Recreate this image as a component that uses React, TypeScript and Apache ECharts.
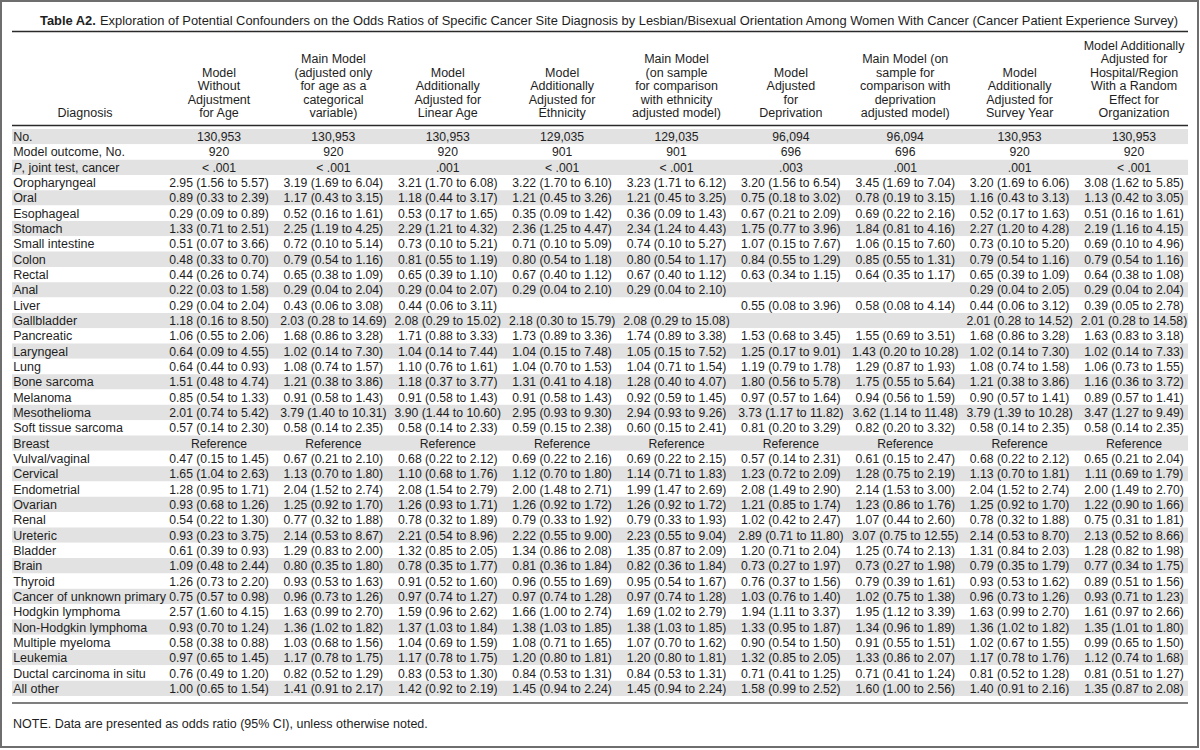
import React, { useEffect, useRef } from 'react';
import * as echarts from 'echarts';

const FONT = '"Liberation Sans", Arial, Helvetica, sans-serif';
const FS = 12.5;
const FS_DATA = 12.2;

const headers: string[][] = [
  ['Diagnosis'],
  ['Model', 'Without', 'Adjustment', 'for Age'],
  ['Main Model', '(adjusted only', 'for age as a', 'categorical', 'variable)'],
  ['Model', 'Additionally', 'Adjusted for', 'Linear Age'],
  ['Model', 'Additionally', 'Adjusted for', 'Ethnicity'],
  ['Main Model', '(on sample', 'for comparison', 'with ethnicity', 'adjusted model)'],
  ['Model', 'Adjusted', 'for', 'Deprivation'],
  ['Main Model (on', 'sample for', 'comparison with', 'deprivation', 'adjusted model)'],
  ['Model', 'Additionally', 'Adjusted for', 'Survey Year'],
  ['Model Additionally', 'Adjusted for', 'Hospital/Region', 'With a Random', 'Effect for', 'Organization'],
];

const summaryLabels = ['No.', 'Model outcome, No.', '{i|P}, joint test, cancer'];
const sampleSize = ['130,953', '130,953', '130,953', '129,035', '129,035', '96,094', '96,094', '130,953', '130,953'];
const outcomeCount = ['920', '920', '920', '901', '901', '696', '696', '920', '920'];
const jointP = ['< .001', '< .001', '.001', '< .001', '< .001', '.003', '.001', '.001', '< .001'];

const diagnoses = [
  'Oropharyngeal', 'Oral', 'Esophageal', 'Stomach', 'Small intestine', 'Colon', 'Rectal', 'Anal', 'Liver',
  'Gallbladder', 'Pancreatic', 'Laryngeal', 'Lung', 'Bone sarcoma', 'Melanoma', 'Mesothelioma',
  'Soft tissue sarcoma', 'Breast', 'Vulval/vaginal', 'Cervical', 'Endometrial', 'Ovarian', 'Renal',
  'Ureteric', 'Bladder', 'Brain', 'Thyroid', 'Cancer of unknown primary', 'Hodgkin lymphoma',
  'Non-Hodgkin lymphoma', 'Multiple myeloma', 'Leukemia', 'Ductal carcinoma in situ', 'All other',
];

const noAgeAdj = [
  '2.95 (1.56 to 5.57)', '0.89 (0.33 to 2.39)', '0.29 (0.09 to 0.89)', '1.33 (0.71 to 2.51)', '0.51 (0.07 to 3.66)',
  '0.48 (0.33 to 0.70)', '0.44 (0.26 to 0.74)', '0.22 (0.03 to 1.58)', '0.29 (0.04 to 2.04)', '1.18 (0.16 to 8.50)',
  '1.06 (0.55 to 2.06)', '0.64 (0.09 to 4.55)', '0.64 (0.44 to 0.93)', '1.51 (0.48 to 4.74)', '0.85 (0.54 to 1.33)',
  '2.01 (0.74 to 5.42)', '0.57 (0.14 to 2.30)', 'Reference', '0.47 (0.15 to 1.45)', '1.65 (1.04 to 2.63)',
  '1.28 (0.95 to 1.71)', '0.93 (0.68 to 1.26)', '0.54 (0.22 to 1.30)', '0.93 (0.23 to 3.75)', '0.61 (0.39 to 0.93)',
  '1.09 (0.48 to 2.44)', '1.26 (0.73 to 2.20)', '0.75 (0.57 to 0.98)', '2.57 (1.60 to 4.15)', '0.93 (0.70 to 1.24)',
  '0.58 (0.38 to 0.88)', '0.97 (0.65 to 1.45)', '0.76 (0.49 to 1.20)', '1.00 (0.65 to 1.54)',
];
const mainModel = [
  '3.19 (1.69 to 6.04)', '1.17 (0.43 to 3.15)', '0.52 (0.16 to 1.61)', '2.25 (1.19 to 4.25)', '0.72 (0.10 to 5.14)',
  '0.79 (0.54 to 1.16)', '0.65 (0.38 to 1.09)', '0.29 (0.04 to 2.04)', '0.43 (0.06 to 3.08)', '2.03 (0.28 to 14.69)',
  '1.68 (0.86 to 3.28)', '1.02 (0.14 to 7.30)', '1.08 (0.74 to 1.57)', '1.21 (0.38 to 3.86)', '0.91 (0.58 to 1.43)',
  '3.79 (1.40 to 10.31)', '0.58 (0.14 to 2.35)', 'Reference', '0.67 (0.21 to 2.10)', '1.13 (0.70 to 1.80)',
  '2.04 (1.52 to 2.74)', '1.25 (0.92 to 1.70)', '0.77 (0.32 to 1.88)', '2.14 (0.53 to 8.67)', '1.29 (0.83 to 2.00)',
  '0.80 (0.35 to 1.80)', '0.93 (0.53 to 1.63)', '0.96 (0.73 to 1.26)', '1.63 (0.99 to 2.70)', '1.36 (1.02 to 1.82)',
  '1.03 (0.68 to 1.56)', '1.17 (0.78 to 1.75)', '0.82 (0.52 to 1.29)', '1.41 (0.91 to 2.17)',
];
const linearAge = [
  '3.21 (1.70 to 6.08)', '1.18 (0.44 to 3.17)', '0.53 (0.17 to 1.65)', '2.29 (1.21 to 4.32)', '0.73 (0.10 to 5.21)',
  '0.81 (0.55 to 1.19)', '0.65 (0.39 to 1.10)', '0.29 (0.04 to 2.07)', '0.44 (0.06 to 3.11)', '2.08 (0.29 to 15.02)',
  '1.71 (0.88 to 3.33)', '1.04 (0.14 to 7.44)', '1.10 (0.76 to 1.61)', '1.18 (0.37 to 3.77)', '0.91 (0.58 to 1.43)',
  '3.90 (1.44 to 10.60)', '0.58 (0.14 to 2.33)', 'Reference', '0.68 (0.22 to 2.12)', '1.10 (0.68 to 1.76)',
  '2.08 (1.54 to 2.79)', '1.26 (0.93 to 1.71)', '0.78 (0.32 to 1.89)', '2.21 (0.54 to 8.96)', '1.32 (0.85 to 2.05)',
  '0.78 (0.35 to 1.77)', '0.91 (0.52 to 1.60)', '0.97 (0.74 to 1.27)', '1.59 (0.96 to 2.62)', '1.37 (1.03 to 1.84)',
  '1.04 (0.69 to 1.59)', '1.17 (0.78 to 1.75)', '0.83 (0.53 to 1.30)', '1.42 (0.92 to 2.19)',
];
const ethnicity = [
  '3.22 (1.70 to 6.10)', '1.21 (0.45 to 3.26)', '0.35 (0.09 to 1.42)', '2.36 (1.25 to 4.47)', '0.71 (0.10 to 5.09)',
  '0.80 (0.54 to 1.18)', '0.67 (0.40 to 1.12)', '0.29 (0.04 to 2.10)', '', '2.18 (0.30 to 15.79)',
  '1.73 (0.89 to 3.36)', '1.04 (0.15 to 7.48)', '1.04 (0.70 to 1.53)', '1.31 (0.41 to 4.18)', '0.91 (0.58 to 1.43)',
  '2.95 (0.93 to 9.30)', '0.59 (0.15 to 2.38)', 'Reference', '0.69 (0.22 to 2.16)', '1.12 (0.70 to 1.80)',
  '2.00 (1.48 to 2.71)', '1.26 (0.92 to 1.72)', '0.79 (0.33 to 1.92)', '2.22 (0.55 to 9.00)', '1.34 (0.86 to 2.08)',
  '0.81 (0.36 to 1.84)', '0.96 (0.55 to 1.69)', '0.97 (0.74 to 1.28)', '1.66 (1.00 to 2.74)', '1.38 (1.03 to 1.85)',
  '1.08 (0.71 to 1.65)', '1.20 (0.80 to 1.81)', '0.84 (0.53 to 1.31)', '1.45 (0.94 to 2.24)',
];
const mainEthSample = [
  '3.23 (1.71 to 6.12)', '1.21 (0.45 to 3.25)', '0.36 (0.09 to 1.43)', '2.34 (1.24 to 4.43)', '0.74 (0.10 to 5.27)',
  '0.80 (0.54 to 1.17)', '0.67 (0.40 to 1.12)', '0.29 (0.04 to 2.10)', '', '2.08 (0.29 to 15.08)',
  '1.74 (0.89 to 3.38)', '1.05 (0.15 to 7.52)', '1.04 (0.71 to 1.54)', '1.28 (0.40 to 4.07)', '0.92 (0.59 to 1.45)',
  '2.94 (0.93 to 9.26)', '0.60 (0.15 to 2.41)', 'Reference', '0.69 (0.22 to 2.15)', '1.14 (0.71 to 1.83)',
  '1.99 (1.47 to 2.69)', '1.26 (0.92 to 1.72)', '0.79 (0.33 to 1.93)', '2.23 (0.55 to 9.04)', '1.35 (0.87 to 2.09)',
  '0.82 (0.36 to 1.84)', '0.95 (0.54 to 1.67)', '0.97 (0.74 to 1.28)', '1.69 (1.02 to 2.79)', '1.38 (1.03 to 1.85)',
  '1.07 (0.70 to 1.62)', '1.20 (0.80 to 1.81)', '0.84 (0.53 to 1.31)', '1.45 (0.94 to 2.24)',
];
const deprivation = [
  '3.20 (1.56 to 6.54)', '0.75 (0.18 to 3.02)', '0.67 (0.21 to 2.09)', '1.75 (0.77 to 3.96)', '1.07 (0.15 to 7.67)',
  '0.84 (0.55 to 1.29)', '0.63 (0.34 to 1.15)', '', '0.55 (0.08 to 3.96)', '',
  '1.53 (0.68 to 3.45)', '1.25 (0.17 to 9.01)', '1.19 (0.79 to 1.78)', '1.80 (0.56 to 5.78)', '0.97 (0.57 to 1.64)',
  '3.73 (1.17 to 11.82)', '0.81 (0.20 to 3.29)', 'Reference', '0.57 (0.14 to 2.31)', '1.23 (0.72 to 2.09)',
  '2.08 (1.49 to 2.90)', '1.21 (0.85 to 1.74)', '1.02 (0.42 to 2.47)', '2.89 (0.71 to 11.80)', '1.20 (0.71 to 2.04)',
  '0.73 (0.27 to 1.97)', '0.76 (0.37 to 1.56)', '1.03 (0.76 to 1.40)', '1.94 (1.11 to 3.37)', '1.33 (0.95 to 1.87)',
  '0.90 (0.54 to 1.50)', '1.32 (0.85 to 2.05)', '0.71 (0.41 to 1.25)', '1.58 (0.99 to 2.52)',
];
const mainDepSample = [
  '3.45 (1.69 to 7.04)', '0.78 (0.19 to 3.15)', '0.69 (0.22 to 2.16)', '1.84 (0.81 to 4.16)', '1.06 (0.15 to 7.60)',
  '0.85 (0.55 to 1.31)', '0.64 (0.35 to 1.17)', '', '0.58 (0.08 to 4.14)', '',
  '1.55 (0.69 to 3.51)', '1.43 (0.20 to 10.28)', '1.29 (0.87 to 1.93)', '1.75 (0.55 to 5.64)', '0.94 (0.56 to 1.59)',
  '3.62 (1.14 to 11.48)', '0.82 (0.20 to 3.32)', 'Reference', '0.61 (0.15 to 2.47)', '1.28 (0.75 to 2.19)',
  '2.14 (1.53 to 3.00)', '1.23 (0.86 to 1.76)', '1.07 (0.44 to 2.60)', '3.07 (0.75 to 12.55)', '1.25 (0.74 to 2.13)',
  '0.73 (0.27 to 1.98)', '0.79 (0.39 to 1.61)', '1.02 (0.75 to 1.38)', '1.95 (1.12 to 3.39)', '1.34 (0.96 to 1.89)',
  '0.91 (0.55 to 1.51)', '1.33 (0.86 to 2.07)', '0.71 (0.41 to 1.24)', '1.60 (1.00 to 2.56)',
];
const surveyYear = [
  '3.20 (1.69 to 6.06)', '1.16 (0.43 to 3.13)', '0.52 (0.17 to 1.63)', '2.27 (1.20 to 4.28)', '0.73 (0.10 to 5.20)',
  '0.79 (0.54 to 1.16)', '0.65 (0.39 to 1.09)', '0.29 (0.04 to 2.05)', '0.44 (0.06 to 3.12)', '2.01 (0.28 to 14.52)',
  '1.68 (0.86 to 3.28)', '1.02 (0.14 to 7.30)', '1.08 (0.74 to 1.58)', '1.21 (0.38 to 3.86)', '0.90 (0.57 to 1.41)',
  '3.79 (1.39 to 10.28)', '0.58 (0.14 to 2.35)', 'Reference', '0.68 (0.22 to 2.12)', '1.13 (0.70 to 1.81)',
  '2.04 (1.52 to 2.74)', '1.25 (0.92 to 1.70)', '0.78 (0.32 to 1.88)', '2.14 (0.53 to 8.70)', '1.31 (0.84 to 2.03)',
  '0.79 (0.35 to 1.79)', '0.93 (0.53 to 1.62)', '0.96 (0.73 to 1.26)', '1.63 (0.99 to 2.70)', '1.36 (1.02 to 1.82)',
  '1.02 (0.67 to 1.55)', '1.17 (0.78 to 1.76)', '0.81 (0.52 to 1.28)', '1.40 (0.91 to 2.16)',
];
const hospitalRegion = [
  '3.08 (1.62 to 5.85)', '1.13 (0.42 to 3.05)', '0.51 (0.16 to 1.61)', '2.19 (1.16 to 4.15)', '0.69 (0.10 to 4.96)',
  '0.79 (0.54 to 1.16)', '0.64 (0.38 to 1.08)', '0.29 (0.04 to 2.04)', '0.39 (0.05 to 2.78)', '2.01 (0.28 to 14.58)',
  '1.63 (0.83 to 3.18)', '1.02 (0.14 to 7.33)', '1.06 (0.73 to 1.55)', '1.16 (0.36 to 3.72)', '0.89 (0.57 to 1.41)',
  '3.47 (1.27 to 9.49)', '0.58 (0.14 to 2.35)', 'Reference', '0.65 (0.21 to 2.04)', '1.11 (0.69 to 1.79)',
  '2.00 (1.49 to 2.70)', '1.22 (0.90 to 1.66)', '0.75 (0.31 to 1.81)', '2.13 (0.52 to 8.66)', '1.28 (0.82 to 1.98)',
  '0.77 (0.34 to 1.75)', '0.89 (0.51 to 1.56)', '0.93 (0.71 to 1.23)', '1.61 (0.97 to 2.66)', '1.35 (1.01 to 1.80)',
  '0.99 (0.65 to 1.50)', '1.12 (0.74 to 1.68)', '0.81 (0.51 to 1.27)', '1.35 (0.87 to 2.08)',
];

const titleBold = 'Table A2.';
const titleText = ' Exploration of Potential Confounders on the Odds Ratios of Specific Cancer Site Diagnosis by Lesbian/Bisexual Orientation Among Women With Cancer (Cancer Patient Experience Survey)';
const noteText = 'NOTE. Data are presented as odds ratio (95% CI), unless otherwise noted.';

export default function App() {
  const ref = useRef<HTMLDivElement>(null);
  useEffect(() => {
    if (!ref.current) return;
    const chart = echarts.init(ref.current, null, { renderer: 'svg' });
    const modelCols = [noAgeAdj, mainModel, linearAge, ethnicity, mainEthSample, deprivation, mainDepSample, surveyYear, hospitalRegion];
    const rowLabels = [...summaryLabels, ...diagnoses];
    const LABEL_X = -0.8;
    const cells: { x: number; y: number; t: string; left: boolean }[] = [];
    rowLabels.forEach((lab, r) => cells.push({ x: LABEL_X, y: r, t: lab, left: true }));
    modelCols.forEach((col, c) => {
      const vals = [sampleSize[c], outcomeCount[c], jointP[c], ...col];
      vals.forEach((t, r) => {
        if (t) cells.push({ x: c + 1, y: r, t, left: false });
      });
    });
    const textColor = '#1e1e1e';
    chart.setOption({
      animation: false,
      backgroundColor: '#ffffff',
      grid: { left: 12, right: 12, top: 129, height: 567, containLabel: false },
      xAxis: {
        type: 'value', min: -0.80984, max: 9.47213, show: false,
      },
      yAxis: {
        type: 'category', inverse: true,
        data: rowLabels.map((_, i) => String(i)),
        axisLine: { show: false }, axisTick: { show: false }, axisLabel: { show: false },
        splitLine: { show: false },
        splitArea: { show: true, interval: 0, areaStyle: { color: ['#e2e2e2', '#ffffff'] } },
      },
      series: [{
        type: 'custom',
        data: cells.map((c) => [c.x, c.y]),
        encode: { x: 0, y: 1 },
        renderItem: (params: any, api: any) => {
          const cell = cells[params.dataIndex];
          const p = api.coord([api.value(0), api.value(1)]);
          const fs = cell.left ? FS : FS_DATA;
          return {
            type: 'text',
            x: p[0], y: p[1] + 0.5,
            style: {
              text: cell.t,
              textAlign: cell.left ? 'left' : 'center',
              align: cell.left ? 'left' : 'center',
              textVerticalAlign: 'middle',
              verticalAlign: 'middle',
              fontSize: fs,
              fontFamily: FONT,
              fill: textColor,
              rich: { i: { fontStyle: 'italic', fontSize: fs, fontFamily: FONT, fill: textColor } },
            },
          };
        },
      }],
    });

    const headerX = headers.map((_, c) =>
      c === 0 ? 85 : (chart.convertToPixel({ xAxisIndex: 0 }, c) as number));
    const graphics: any[] = [];
    graphics.push({
      type: 'rect', shape: { x: 1, y: 1, width: 1197, height: 746 },
      style: { fill: 'none', stroke: '#6e6e6e', lineWidth: 2 }, silent: true,
    });
    graphics.push({
      type: 'text', x: 40, y: 20,
      style: {
        text: `{b|${titleBold}}${titleText}`,
        textVerticalAlign: 'middle', verticalAlign: 'middle',
        fontSize: 12.9, fontFamily: FONT, fill: textColor,
        rich: { b: { fontWeight: 'bold', fontSize: 12.9, fontFamily: FONT, fill: textColor } },
      },
    });
    graphics.push({ type: 'line', shape: { x1: 12, y1: 31.5, x2: 1188, y2: 31.5 }, style: { stroke: '#2a2a2a', lineWidth: 1.5 } });
    graphics.push({ type: 'line', shape: { x1: 12, y1: 125.5, x2: 1188, y2: 125.5 }, style: { stroke: '#2a2a2a', lineWidth: 1.5 } });
    graphics.push({ type: 'line', shape: { x1: 12, y1: 703, x2: 1188, y2: 703 }, style: { stroke: '#555555', lineWidth: 1.5 } });
    headers.forEach((lines, c) => {
      lines.forEach((ln, i) => {
        graphics.push({
          type: 'text', x: headerX[c], y: 113 - (lines.length - 1 - i) * 13.4,
          style: {
            text: ln, textAlign: 'center', align: 'center',
            textVerticalAlign: 'middle', verticalAlign: 'middle',
            fontSize: FS, fontFamily: FONT, fill: textColor,
          },
        });
      });
    });
    graphics.push({
      type: 'text', x: 13, y: 724,
      style: { text: noteText, textVerticalAlign: 'middle', verticalAlign: 'middle', fontSize: FS, fontFamily: FONT, fill: textColor },
    });
    chart.setOption({ graphic: { elements: graphics } });

    return () => chart.dispose();
  }, []);
  return (
    <div
      ref={ref}
      style={{ position: 'fixed', left: 0, top: 0, width: 1200, height: 750, background: '#fff' }}
    />
  );
}
